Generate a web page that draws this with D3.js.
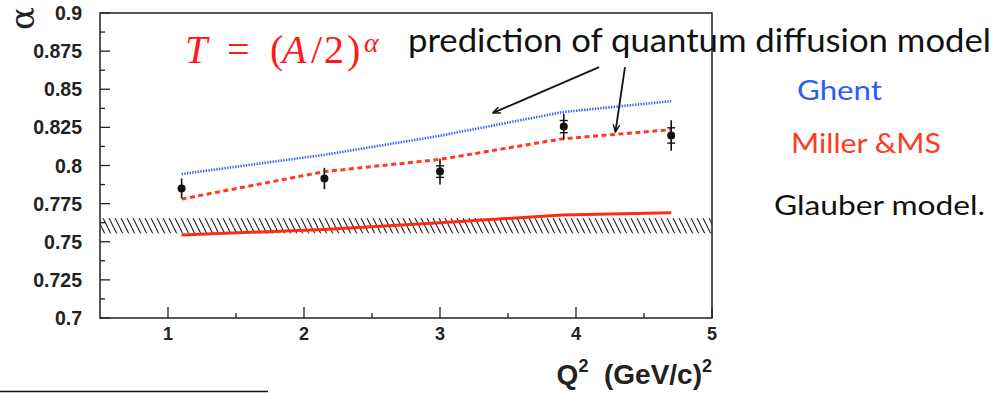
<!DOCTYPE html>
<html><head><meta charset="utf-8">
<script src="https://cdn.jsdelivr.net/npm/d3@7"></script>
<style>html,body{margin:0;padding:0;background:#fff;}svg{display:block;}</style>
</head><body>
<svg id="c" width="1000" height="393"></svg>
<script>
// ---- data ----
const q2Data = [1.1, 2.15, 3.0, 3.91, 4.7];
const alphaData = [0.785, 0.7915, 0.796, 0.8255, 0.8197];
const totErr = [0.0065, 0.007, 0.0085, 0.0085, 0.010];
const statErr = [0, 0, 0.0038, 0.004, 0.005];

const q2Model = [1.1, 2.15, 3.0, 3.9, 4.7];
const ghent = [0.7944, 0.807, 0.8195, 0.835, 0.8422];
const miller = [0.778, 0.796, 0.804, 0.8175, 0.8235];
const glauber = [0.7545, 0.758, 0.7625, 0.7675, 0.769];

const bandLow = 0.7555, bandHigh = 0.7655;

const xMajor = [1, 2, 3, 4, 5];
const xMinor = [1.5, 2.5, 3.5, 4.5];
const yMajor = [0.7, 0.725, 0.75, 0.775, 0.8, 0.825, 0.85, 0.875, 0.9];
const yLabels = ["0.7","0.725","0.75","0.775","0.8","0.825","0.85","0.875","0.9"];
const yMinor = [0.7125, 0.7375, 0.7625, 0.7875, 0.8125, 0.8375, 0.8625, 0.8875];

// arrows (data coords): [fromQ2, fromAlpha, toQ2, toAlpha]
const arrows = [[4.17, 0.8645, 3.39, 0.8345], [4.36, 0.8645, 4.29, 0.822]];

// ---- layout ----
const svg = d3.select("#c");
const L = 100, R = 712, T = 13, B = 318;
const x = d3.scaleLinear().domain([0.5, 5]).range([L, R]);
const y = d3.scaleLinear().domain([0.7, 0.9]).range([B, T]);

const defs = svg.append("defs");
const pat = defs.append("pattern").attr("id","hatch").attr("patternUnits","userSpaceOnUse")
  .attr("width", 6).attr("height", 12);
[[0,6],[-6,0],[6,12]].forEach(p=>pat.append("line").attr("x1",p[0]).attr("y1",0).attr("x2",p[1]).attr("y2",12)
  .attr("stroke","#222").attr("stroke-width",1.1));

const mk = defs.append("marker").attr("id","arr").attr("viewBox","0 0 10 10")
  .attr("refX",9).attr("refY",5).attr("markerWidth",8).attr("markerHeight",8)
  .attr("orient","auto").attr("markerUnits","userSpaceOnUse");
mk.append("path").attr("d","M0,1 L9,5 L0,9").attr("fill","none").attr("stroke","#111").attr("stroke-width",1.8);

// hatched band
svg.append("rect").attr("x", L).attr("width", R - L)
  .attr("y", y(bandHigh)).attr("height", y(bandLow) - y(bandHigh))
  .attr("fill","url(#hatch)");

// model curves
const line = d3.line().x((d,i)=>x(q2Model[i])).y(d=>y(d));
svg.append("path").attr("d", line(glauber)).attr("fill","none")
  .attr("stroke","#ff2a14").attr("stroke-width",3);
svg.append("path").attr("d", line(miller)).attr("fill","none")
  .attr("stroke","#ff3a1e").attr("stroke-width",3).attr("stroke-dasharray","5 3.5");
svg.append("path").attr("d", line(ghent)).attr("fill","none")
  .attr("stroke","#3a5cff").attr("stroke-width",2.6).attr("stroke-dasharray","1.4 1.3");

// data points
const pts = svg.append("g");
q2Data.forEach((q,i)=>{
  const cx = x(q);
  pts.append("line").attr("x1",cx).attr("x2",cx)
    .attr("y1", y(alphaData[i]+totErr[i])).attr("y2", y(alphaData[i]-totErr[i]))
    .attr("stroke","#111").attr("stroke-width",1.6);
  if (statErr[i] > 0) {
    [alphaData[i]+statErr[i], alphaData[i]-statErr[i]].forEach(v=>{
      pts.append("line").attr("x1",cx-4).attr("x2",cx+4).attr("y1",y(v)).attr("y2",y(v))
        .attr("stroke","#111").attr("stroke-width",1.4);
    });
  }
  pts.append("circle").attr("cx",cx).attr("cy",y(alphaData[i])).attr("r",4).attr("fill","#111");
});

// frame
svg.append("rect").attr("x",L).attr("y",T).attr("width",R-L).attr("height",B-T)
  .attr("fill","none").attr("stroke","#222").attr("stroke-width",1.5);

// axes ticks
const ax = svg.append("g");
xMajor.forEach(v=>ax.append("line").attr("x1",x(v)).attr("x2",x(v)).attr("y1",B).attr("y2",B-11).attr("stroke","#222").attr("stroke-width",1.3));
xMinor.forEach(v=>ax.append("line").attr("x1",x(v)).attr("x2",x(v)).attr("y1",B).attr("y2",B-5).attr("stroke","#222").attr("stroke-width",1.3));
yMajor.forEach(v=>ax.append("line").attr("x1",L).attr("x2",L+10).attr("y1",y(v)).attr("y2",y(v)).attr("stroke","#222").attr("stroke-width",1.3));
yMinor.forEach(v=>ax.append("line").attr("x1",L).attr("x2",L+5).attr("y1",y(v)).attr("y2",y(v)).attr("stroke","#222").attr("stroke-width",1.3));

const lab = "'Liberation Sans', Arial, sans-serif";
xMajor.forEach(v=>ax.append("text").attr("x",x(v)).attr("y",340).attr("text-anchor","middle")
  .attr("font-family",lab).attr("font-weight","bold").attr("font-size",18).attr("fill","#222").text(String(v)));
yMajor.forEach((v,i)=>ax.append("text").attr("x",82).attr("y",y(v)).attr("dy","0.36em").attr("text-anchor","end")
  .attr("font-family",lab).attr("font-weight","bold").attr("font-size",19.5).attr("fill","#222").text(yLabels[i]));

// axis titles
svg.append("text").attr("transform","translate(34,7) rotate(-90)").attr("text-anchor","end")
  .attr("font-family","'DejaVu Serif', serif").attr("font-size",34).attr("fill","#222").text("α");
const xt = svg.append("text").attr("x",712).attr("y",384).attr("text-anchor","end")
  .attr("font-family",lab).attr("font-weight","bold").attr("font-size",28).attr("fill","#222");
xt.append("tspan").text("Q");
xt.append("tspan").attr("dy",-12).attr("font-size",18).text("2");
xt.append("tspan").attr("dy",12).text("\u00a0 (GeV/c)");
xt.append("tspan").attr("dy",-12).attr("font-size",18).text("2");

// formula
const serif = "'Liberation Serif', 'DejaVu Serif', serif";
const f = svg.append("text").attr("y",63).attr("font-family",serif).attr("font-size",40).attr("fill","#ff1a1a");
f.append("tspan").attr("x",185).attr("font-style","italic").text("T");
f.append("tspan").attr("x",227).text("=");
f.append("tspan").attr("x",270).text("(");
f.append("tspan").attr("x",282).attr("font-style","italic").text("A");
f.append("tspan").attr("x",311).text("/");
f.append("tspan").attr("x",324).text("2");
f.append("tspan").attr("x",347).text(")");
f.append("tspan").attr("x",364).attr("y",52).attr("font-size",28).attr("font-style","italic").text("α");

// annotation texts
const sans = "Lato, 'Open Sans', sans-serif";
svg.append("text").attr("x",408).attr("y",52).attr("font-family",sans).attr("font-size",33)
  .attr("fill","#111").attr("textLength",583).attr("lengthAdjust","spacingAndGlyphs").text("prediction of quantum diffusion model");
svg.append("text").attr("x",797).attr("y",100).attr("font-family",sans).attr("font-size",26)
  .attr("fill","#2d5cf6").attr("textLength",85).attr("lengthAdjust","spacingAndGlyphs").text("Ghent");
svg.append("text").attr("x",791).attr("y",153).attr("font-family",sans).attr("font-size",26)
  .attr("fill","#ff3a1e").attr("textLength",150).attr("lengthAdjust","spacingAndGlyphs").text("Miller &MS");
svg.append("text").attr("x",774).attr("y",215).attr("font-family",sans).attr("font-size",26)
  .attr("fill","#111").attr("textLength",211).attr("lengthAdjust","spacingAndGlyphs").text("Glauber model.");

// arrows
arrows.forEach(a=>{
  svg.append("line").attr("x1",x(a[0])).attr("y1",y(a[1])).attr("x2",x(a[2])).attr("y2",y(a[3]))
    .attr("stroke","#111").attr("stroke-width",1.8).attr("marker-end","url(#arr)");
});

// footnote rule
svg.append("line").attr("x1",0).attr("x2",268).attr("y1",391.5).attr("y2",391.5).attr("stroke","#111").attr("stroke-width",1.5);
</script>
</body></html>
